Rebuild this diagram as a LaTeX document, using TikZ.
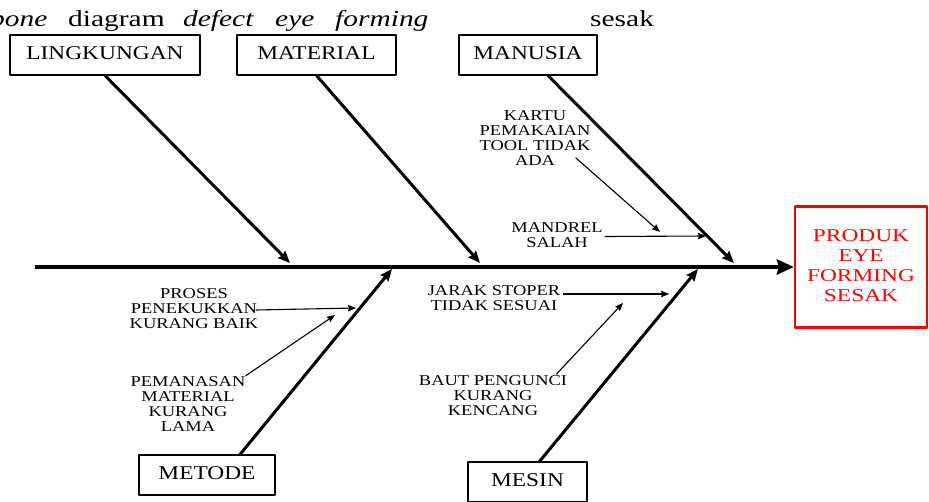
\documentclass[tikz,border=0pt]{standalone}
\usepackage{fontspec}
\setmainfont{Liberation Serif}
\usepackage{graphicx}
\usetikzlibrary{arrows.meta}

% text in the reference is a little wider than it is high
\newcommand{\wide}[2][1.23]{\scalebox{#1}[1]{\begin{tabular}{@{}c@{}}#2\end{tabular}}}

\tikzset{
  category/.style={draw,line width=1.1pt,inner sep=0pt,minimum height=40pt,font=\fontsize{19.5}{22}\selectfont},
  cause/.style={inner sep=0pt,font=\fontsize{15}{15}\selectfont},
  effectbox/.style={draw=red,line width=2.2pt,text=red,inner sep=0pt,minimum width=132pt,minimum height=121pt,font=\fontsize{18}{20}\selectfont},
  caption/.style={inner sep=0pt,anchor=base west,font=\fontsize{23}{26}\selectfont},
  spine/.style={line width=4.5pt,-{Stealth[length=17pt,width=15pt,inset=2pt]}},
  bone/.style={line width=3pt,-{Stealth[length=12pt,width=10pt,inset=1.5pt]}},
  subcause/.style={line width=1.1pt,-{Stealth[length=8pt,width=6.5pt,inset=1pt]}}
}

\begin{document}
\begin{tikzpicture}[x=1pt,y=-1pt,line join=round]
\useasboundingbox (0,0) rectangle (929,501);

% caption line above the figure
\foreach \w/\p [count=\i] in {{\textit{bone}}/-10,diagram/68,{\textit{defect}}/183,{\textit{eye}}/275,{\textit{forming}}/335,sesak/590}
  \node[caption] (cap\i) at (\p,26) {\scalebox{1.28}[1]{\w}};

% effect and main categories
\node[effectbox] (effect) at (861,267) {\wide[1.3]{PRODUK\\EYE\\FORMING\\SESAK}};
\node[category,minimum width=190pt] (lingkungan) at (105,55) {\wide[1.2]{LINGKUNGAN}};
\node[category,minimum width=159pt] (material) at (316.5,55) {\wide[1.2]{MATERIAL}};
\node[category,minimum width=138pt] (manusia) at (528,55) {\wide[1.2]{MANUSIA}};
\node[category,minimum width=136pt] (metode) at (207,475) {\wide[1.2]{METODE}};
\node[category,minimum width=119pt] (mesin) at (527.5,482) {\wide[1.2]{MESIN}};

% spine and bones
\coordinate (tail) at (35,267);
\coordinate (tipL) at (290,263);
\coordinate (tipA) at (480,263);
\coordinate (tipU) at (734,263);
\coordinate (tipT) at (392,269);
\coordinate (tipS) at (698,269);
\draw[spine] (tail) -- (effect.west);
\draw[bone] (lingkungan.south) -- (tipL);
\draw[bone] (material.south) -- (tipA);
\draw[bone] ([xshift=20pt]manusia.south) -- (tipU);
\draw[bone] ([xshift=33pt]metode.north) -- (tipT);
\draw[bone] ([xshift=12pt]mesin.north) -- (tipS);

% sub causes
\node[cause] (kartu) at (535,139.5) {\wide{KARTU\\PEMAKAIAN\\TOOL TIDAK\\ADA}};
\node[cause] (mandrel) at (557,236.5) {\wide{MANDREL\\SALAH}};
\node[cause] (proses) at (194,310) {\wide{PROSES\\PENEKUKKAN\\KURANG BAIK}};
\node[cause] (pemanasan) at (188,406) {\wide{PEMANASAN\\MATERIAL\\KURANG\\LAMA}};
\node[cause] (jarak) at (494,300) {\wide{JARAK STOPER\\TIDAK SESUAI}};
\node[cause] (baut) at (493,397) {\wide{BAUT PENGUNCI\\KURANG\\KENCANG}};

\coordinate (kartuT) at (660,232);
\coordinate (mandrelT) at (706,236);
\coordinate (prosesT) at (356,308);
\coordinate (pemanasanT) at (335,315);
\coordinate (jarakT) at (669,294);
\coordinate (bautT) at (623,303);
\draw[subcause] ([shift={(-15,-12)}]kartu.south east) -- (kartuT);
\draw[subcause] ([xshift=2pt]mandrel.east) -- (mandrelT);
\draw[subcause] ([xshift=-3pt]proses.east) -- (prosesT);
\draw[subcause] (pemanasan.north east) -- (pemanasanT);
\draw[subcause] ([shift={(3,-6)}]jarak.east) -- (jarakT);
\draw[subcause] ([xshift=-11pt]baut.north east) -- (bautT);
\end{tikzpicture}
\end{document}
